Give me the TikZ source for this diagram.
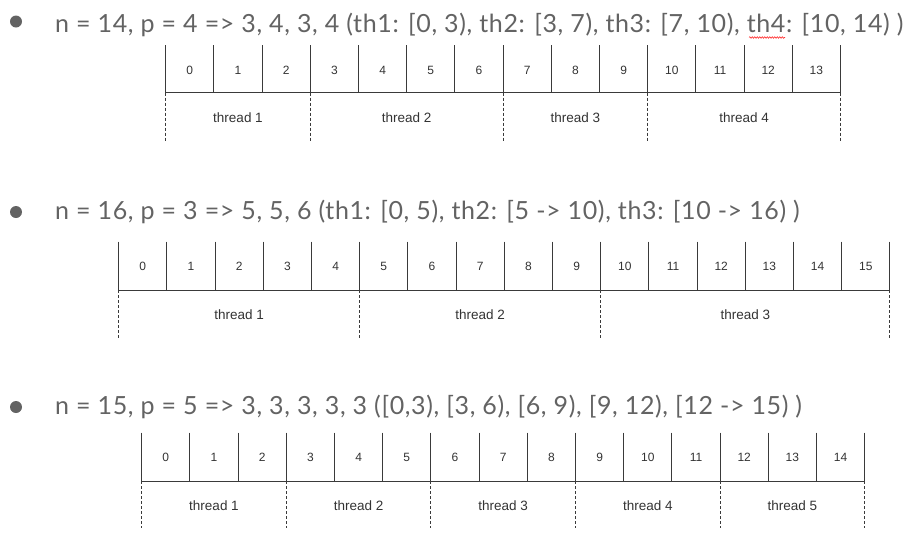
\documentclass[tikz,border=0pt]{standalone}
\usepackage{fontspec}
\setmainfont{Liberation Sans}
\newfontfamily\notefont[LetterSpace=2.5]{Lato}
\usetikzlibrary{decorations.pathmorphing}
\definecolor{notegray}{HTML}{636363}
\definecolor{linegray}{HTML}{3A3A3A}

\begin{document}
\begin{tikzpicture}
[x=1pt, y=-1pt,
 note/.style={anchor=base west, inner sep=0pt, text=notegray, font=\notefont\fontsize{25}{30}\selectfont},
 dot/.style={fill=notegray, draw=none},
 idx/.style={anchor=base, inner sep=0pt, text=black!80, font=\fontsize{12}{14}\selectfont},
 thr/.style={anchor=base, inner sep=0pt, text=black!80, font=\fontsize{13.5}{16}\selectfont},
 wall/.style={draw=linegray, line width=0.9pt},
 cut/.style={draw=linegray, line width=0.9pt, dash pattern=on 3pt off 2pt}]
\useasboundingbox (0,0) rectangle (920,539);

% n = 14, p = 4
\fill[dot] (16,21.5) circle (6);
\node[note] (line1) at (55,32) {n = 14, p = 4 => 3, 4, 3, 4 (th1: [0, 3), th2: [3, 7), th3: [7, 10), th4: [10, 14) )};
\draw[red!80, line width=0.6pt, decorate, decoration={snake, amplitude=0.8pt, segment length=2.5pt}] (749,37.5) -- (785,37.5);
\draw[wall] (165.7,92.7) -- (840.5,92.7);
\foreach \i in {0,...,13} {
  \node[idx] (a\i) at (165.7+48.2*\i+24.1,74.5) {\i};
  \draw[wall] (165.7+48.2*\i,45) -- (165.7+48.2*\i,92.7);
}
\draw[wall] (840.5,45) -- (840.5,92.7);
\foreach \b in {0,3,7,10,14}
  \draw[cut] (165.7+48.2*\b,92.7) -- (165.7+48.2*\b,141.7);
\foreach \s/\e/\t in {0/3/1,3/7/2,7/10/3,10/14/4}
  \node[thr] (ta\t) at (165.7+48.2*\s*0.5+48.2*\e*0.5,122) {thread \t};

% n = 16, p = 3
\fill[dot] (16,212) circle (6);
\node[note] (line2) at (55,219.3) {n = 16, p = 3 => 5, 5, 6 (th1: [0, 5), th2: [5 -> 10), th3: [10 -> 16) )};
\draw[wall] (118.7,290) -- (889.9,290);
\foreach \i in {0,...,15} {
  \node[idx] (b\i) at (118.7+48.2*\i+24.1,270.5) {\i};
  \draw[wall] (118.7+48.2*\i,241.7) -- (118.7+48.2*\i,290);
}
\draw[wall] (889.9,241.7) -- (889.9,290);
\foreach \b in {0,5,10,16}
  \draw[cut] (118.7+48.2*\b,290) -- (118.7+48.2*\b,338);
\foreach \s/\e/\t in {0/5/1,5/10/2,10/16/3}
  \node[thr] (tb\t) at (118.7+48.2*\s*0.5+48.2*\e*0.5,319) {thread \t};

% n = 15, p = 5
\fill[dot] (16,407) circle (6);
\node[note] (line3) at (55,414.3) {n = 15, p = 5 => 3, 3, 3, 3, 3 ([0,3), [3, 6), [6, 9), [9, 12), [12 -> 15) )};
\draw[wall] (141.7,481) -- (864.7,481);
\foreach \i in {0,...,14} {
  \node[idx] (c\i) at (141.7+48.2*\i+24.1,461.8) {\i};
  \draw[wall] (141.7+48.2*\i,432.7) -- (141.7+48.2*\i,481);
}
\draw[wall] (864.7,432.7) -- (864.7,481);
\foreach \b in {0,3,6,9,12,15}
  \draw[cut] (141.7+48.2*\b,481) -- (141.7+48.2*\b,528);
\foreach \s/\e/\t in {0/3/1,3/6/2,6/9/3,9/12/4,12/15/5}
  \node[thr] (tc\t) at (141.7+48.2*\s*0.5+48.2*\e*0.5,510.5) {thread \t};
\end{tikzpicture}
\end{document}
